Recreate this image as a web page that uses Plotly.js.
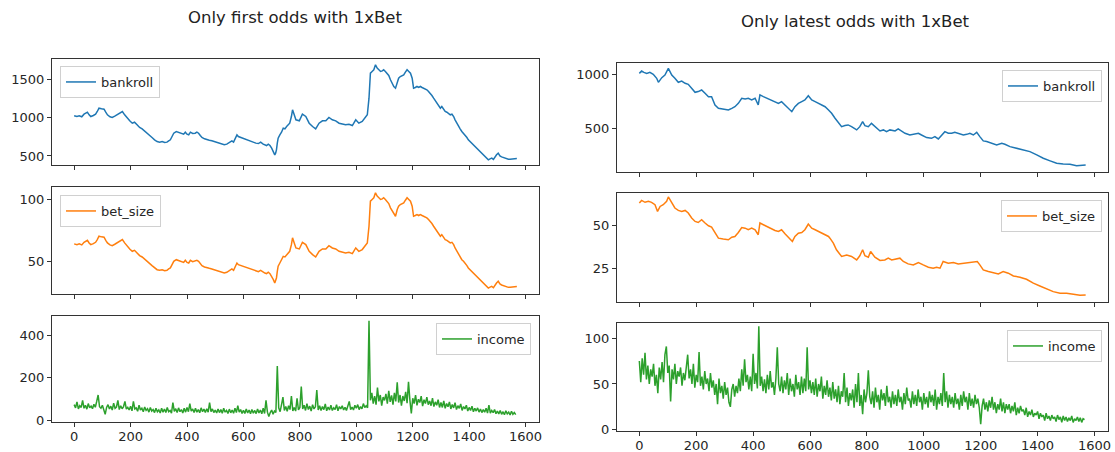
<!DOCTYPE html>
<html>
<head>
<meta charset="utf-8">
<script src="https://cdn.plot.ly/plotly-3.0.1.min.js"></script>
<style>html,body{margin:0;padding:0;background:#fff;}#chart{width:1115px;height:452px;}</style>
</head>
<body>
<div id="chart"></div>
<script>
// ---------- titles / names ----------
const titleLeft = "Only first odds with 1xBet";
const titleRight = "Only latest odds with 1xBet";
const seriesNames = ["bankroll", "bet_size", "income"];
const xTickVals = [0, 200, 400, 600, 800, 1000, 1200, 1400, 1600];

// ---------- left: only first odds ----------
const leftIdx = [0,10,18,27,35,47,53,59,68,76,82,88,97,106,112,118,127,135,144,153,162,171,179,188,197,206,214,223,232,241,250,259,268,276,285,294,303,312,321,329,335,341,347,353,362,370,379,388,394,400,406,412,420,429,435,441,447,453,462,470,479,488,497,506,514,523,532,541,550,559,565,571,577,582,591,600,609,617,626,635,644,653,661,670,676,682,688,694,700,706,711,714,717,720,723,729,735,741,747,753,759,764,770,774,780,786,798,809,821,833,845,856,868,880,892,903,915,927,939,950,962,974,986,998,1009,1021,1033,1039,1045,1050,1056,1062,1068,1074,1080,1086,1092,1097,1103,1109,1115,1121,1127,1133,1139,1145,1150,1156,1162,1168,1174,1180,1186,1192,1198,1203,1209,1215,1221,1227,1233,1239,1245,1250,1256,1262,1268,1274,1280,1286,1292,1298,1303,1309,1315,1321,1327,1333,1339,1345,1350,1356,1362,1368,1374,1380,1386,1392,1397,1403,1409,1415,1421,1427,1433,1439,1445,1450,1456,1462,1468,1474,1480,1486,1492,1497,1503,1509,1515,1521,1527,1533,1539,1545,1551,1557,1562,1569];
const leftBankroll = [1022,1013,1022,1009,1043,1069,1035,1013,1026,1043,1078,1121,1113,1108,1069,1035,1009,1000,1017,1035,1052,1078,1035,991,957,926,939,905,870,853,827,796,766,740,710,688,680,688,675,680,697,710,753,796,818,809,792,783,809,783,775,809,792,796,809,796,766,740,723,710,705,697,688,680,662,654,645,654,680,697,680,732,775,753,740,731,723,710,697,680,667,662,680,654,645,636,654,636,602,558,515,537,580,667,732,775,809,861,853,883,905,926,1013,1100,1035,970,957,1043,1013,926,883,853,926,957,957,1000,970,957,926,913,905,913,896,970,926,948,1013,1035,1251,1576,1598,1620,1684,1641,1620,1598,1606,1620,1598,1576,1546,1490,1446,1403,1381,1468,1511,1532,1546,1554,1589,1620,1598,1576,1511,1381,1390,1403,1390,1403,1390,1381,1372,1360,1338,1316,1286,1251,1216,1186,1143,1121,1143,1113,1078,1069,1056,1035,1043,1013,970,926,883,853,818,796,775,740,710,688,667,645,623,602,580,558,537,515,493,472,450,463,472,455,493,515,537,502,489,480,472,463,459,459,463,468,472,468];
const leftBetSize = [63.9,63.3,63.9,63.1,65.2,66.8,64.7,63.3,64.1,65.2,67.4,70.1,69.6,69.3,66.8,64.7,63.1,62.5,63.6,64.7,65.8,67.4,64.7,61.9,59.8,57.9,58.7,56.6,54.4,53.3,51.7,49.8,47.9,46.3,44.4,43.0,42.5,43.0,42.2,42.5,43.6,44.4,47.1,49.8,51.1,50.6,49.5,48.9,50.6,48.9,48.4,50.6,49.5,49.8,50.6,49.8,47.9,46.3,45.2,44.4,44.1,43.6,43.0,42.5,41.4,40.9,40.3,40.9,42.5,43.6,42.5,45.8,48.4,47.1,46.3,45.7,45.2,44.4,43.6,42.5,41.7,41.4,42.5,40.9,40.3,39.8,40.9,39.8,37.6,34.9,32.2,33.6,36.3,41.7,45.8,48.4,50.6,53.8,53.3,55.2,56.6,57.9,63.3,68.8,64.7,60.6,59.8,65.2,63.3,57.9,55.2,53.3,57.9,59.8,59.8,62.5,60.6,59.8,57.9,57.1,56.6,57.1,56.0,60.6,57.9,59.3,63.3,64.7,78.2,98.5,99.9,101.3,105.3,102.6,101.3,99.9,100.4,101.3,99.9,98.5,96.6,93.1,90.4,87.7,86.3,91.8,94.4,95.8,96.6,97.1,99.3,101.3,99.9,98.5,94.4,86.3,86.9,87.7,86.9,87.7,86.9,86.3,85.8,85.0,83.6,82.3,80.4,78.2,76.0,74.1,71.4,70.1,71.4,69.6,67.4,66.8,66.0,64.7,65.2,63.3,60.6,57.9,55.2,53.3,51.1,49.8,48.4,46.3,44.4,43.0,41.7,40.3,38.9,37.6,36.3,34.9,33.6,32.2,30.8,29.5,28.1,28.9,29.5,28.4,30.8,32.2,33.6,31.4,30.6,30.0,29.5,28.9,28.7,28.7,28.9,29.3,29.5,29.3];
// income sampled every 5 rows starting at row 0
const leftIncome = [
75,60,88,55,70,62,95,58,72,54,80,60,68,56,77,63,90,120,65,58,
72,48,30,62,75,55,68,50,82,58,64,95,52,70,56,66,90,54,62,50,
68,46,90,55,60,44,72,50,58,42,64,48,56,40,62,45,52,38,58,42,
50,36,58,40,55,38,62,42,48,35,85,44,56,38,60,42,52,36,58,40,
62,42,80,45,55,38,58,40,52,37,60,42,54,38,56,40,85,42,55,38,
50,36,55,38,52,35,58,40,48,34,54,37,50,35,58,38,70,40,52,34,
48,34,55,36,50,32,52,35,48,33,55,36,50,32,58,34,95,40,20,38,
50,30,45,38,255,60,42,75,110,48,66,44,70,52,115,46,62,45,105,50,
62,159,55,72,48,80,52,68,45,75,55,65,143,50,70,48,66,52,78,46,
64,50,72,48,60,52,75,46,66,55,70,50,62,48,68,90,52,64,50,72,
58,75,52,66,55,80,62,70,60,466,95,130,80,115,75,155,90,120,70,110,
95,125,80,140,88,118,75,130,90,179,85,120,70,115,92,135,82,182,95,34,
105,80,120,72,100,85,115,68,98,80,110,75,92,70,105,66,88,72,98,62,
85,62,92,58,80,65,88,55,76,60,84,52,70,58,78,48,66,55,72,45,
62,48,68,42,58,45,60,40,55,38,52,40,58,36,73,35,48,38,52,33,
45,32,48,30,42,28,46,32,40,27,44,30,38,28];

// ---------- right: only latest odds ----------
const rightIdxBank = [0,8,16,26,37,49,61,67,79,90,102,114,125,137,149,161,172,184,196,207,219,231,243,254,266,278,295,313,325,336,348,360,372,383,395,407,418,424,436,448,459,477,489,500,512,524,536,547,559,571,582,594,606,618,630,641,653,665,676,688,700,711,723,734,746,764,775,785,793,805,816,828,846,858,869,881,899,910,922,934,951,969,981,992,1010,1027,1039,1051,1063,1074,1086,1098,1109,1127,1139,1151,1162,1174,1186,1197,1209,1221,1238,1256,1274,1285,1303,1326,1350,1373,1397,1420,1444,1467,1490,1514,1537,1555,1569];
const rightBankroll = [1009,1031,1018,1009,1018,1000,963,926,969,994,1056,994,963,926,938,917,907,870,833,840,855,824,793,793,716,685,679,670,685,700,731,778,772,778,762,778,716,809,793,778,762,747,731,747,716,685,654,700,731,747,762,802,762,747,731,716,700,670,639,593,546,515,525,531,515,485,515,562,525,515,546,515,475,485,469,485,475,494,475,454,438,444,454,438,414,407,423,401,438,469,454,454,463,444,438,444,454,438,463,423,383,377,361,346,361,352,330,315,299,284,253,222,198,176,170,167,154,154,160];
const rightIdxBet = [0,8,20,32,43,55,64,73,84,96,102,114,125,137,149,161,172,184,196,207,219,231,243,254,266,278,295,313,325,336,348,360,372,383,395,407,418,424,436,448,459,477,489,500,512,524,538,547,559,571,582,594,606,618,629,641,653,665,670,682,693,711,729,746,764,775,785,793,805,813,828,846,863,875,887,904,916,928,945,963,981,998,1016,1033,1045,1057,1068,1086,1104,1121,1139,1156,1174,1188,1197,1209,1227,1244,1262,1279,1297,1315,1338,1361,1385,1408,1432,1455,1479,1502,1526,1549,1569];
const rightBetSize = [63.0,64.5,63.4,64.0,63.4,62.0,58.1,61.0,62.0,64.0,66.5,63.0,60.1,58.7,58.1,58.7,57.2,54.3,52.3,51.7,53.3,51.4,49.8,49.0,45.5,42.6,42.1,41.7,43.2,43.6,45.9,48.8,48.4,47.5,48.4,47.5,44.6,51.4,50.4,49.4,48.4,47.1,46.5,47.5,45.2,43.2,40.7,43.6,45.5,45.9,47.5,50.8,48.4,47.5,46.5,45.5,44.6,43.6,42.6,39.7,35.9,32.0,32.9,32.0,30.0,32.4,35.9,32.4,31.6,34.9,31.6,29.7,30.0,31.0,30.0,30.4,31.0,29.1,27.7,27.1,28.5,27.1,25.8,25.2,25.8,25.2,29.1,28.1,28.5,27.7,28.1,28.1,28.5,29.1,27.1,24.2,23.3,22.7,21.9,23.3,22.3,20.7,20.0,18.8,16.5,14.9,13.0,11.6,10.7,10.7,10.1,9.5,9.7];
// income sampled every 5 rows starting at row 0
const rightIncome = [
75,52,78,60,84,55,70,50,66,58,72,48,60,40,68,55,74,52,82,91,
62,70,31,66,55,72,50,64,58,68,48,62,54,70,82,56,66,50,72,46,
60,52,85,48,58,44,64,50,56,42,62,46,54,38,50,28,56,40,48,34,
52,38,46,30,25,44,50,36,48,40,56,42,66,48,77,52,60,44,58,42,
83,50,62,45,113,48,58,42,55,40,60,44,64,46,52,38,56,90,50,42,
58,40,54,44,62,38,56,42,50,36,60,44,52,38,58,40,56,42,90,44,
54,40,52,38,56,36,50,42,58,34,48,38,54,36,46,32,52,34,44,30,
48,28,42,36,62,30,46,26,40,32,44,24,50,30,62,26,38,17,44,30,
40,65,36,28,42,24,46,30,38,22,44,32,40,26,48,30,36,24,42,28,
38,26,44,30,36,22,40,28,46,32,34,24,42,28,38,26,44,30,36,22,
40,28,36,24,42,30,38,26,44,22,36,28,40,26,62,30,42,24,38,28,
36,24,40,28,34,22,38,26,42,30,36,22,40,26,34,24,38,28,34,24,
6,26,34,22,30,20,32,24,36,22,30,18,28,22,34,20,30,18,28,22,
28,18,26,20,30,16,24,18,26,20,22,16,24,14,20,16,22,14,18,16,
20,12,18,14,16,10,18,12,15,10,16,12,14,9,16,11,14,8,15,10,
14,9,13,10,15,8,12,10,14,9,13,8,12,11];

// ---------- styling ----------
const colors = ["#1f77b4", "#ff7f0e", "#2ca02c"];
const FONT = "DejaVu Sans, Liberation Sans, sans-serif";
const W = 1115, H = 452;
const px = v => v / W;
const py = v => 1 - v / H;

function mk(x, y, name, color, xa, ya, leg, step) {
  const t = {type: "scatter", mode: "lines", y: y, name: name,
    line: {color: color, width: 1.5}, xaxis: xa, yaxis: ya, legend: leg, hoverinfo: "skip"};
  if (x) t.x = x; else { t.x0 = 0; t.dx = step; }
  return t;
}

const data = [
  mk(leftIdx, leftBankroll, seriesNames[0], colors[0], "x", "y", "legend", 0),
  mk(leftIdx, leftBetSize, seriesNames[1], colors[1], "x2", "y2", "legend2", 0),
  mk(null, leftIncome, seriesNames[2], colors[2], "x3", "y3", "legend3", 5),
  mk(rightIdxBank, rightBankroll, seriesNames[0], colors[0], "x4", "y4", "legend4", 0),
  mk(rightIdxBet, rightBetSize, seriesNames[1], colors[1], "x5", "y5", "legend5", 0),
  mk(null, rightIncome, seriesNames[2], colors[2], "x6", "y6", "legend6", 5)
];

const axBase = {
  ticks: "outside", ticklen: 4, tickwidth: 1, tickcolor: "#333",
  showline: true, mirror: true, linecolor: "#333", linewidth: 1,
  showgrid: false, zeroline: false, fixedrange: true,
  tickfont: {family: FONT, size: 13, color: "#262626"}
};
function xa(dom, anchor, labels) {
  return Object.assign({}, axBase, {domain: dom, anchor: anchor, range: [-78.5, 1647.5],
    tickmode: "array", tickvals: xTickVals, showticklabels: labels, ticklabelstandoff: -2});
}
function ya(dom, anchor, range, tv) {
  return Object.assign({}, axBase, {domain: dom, anchor: anchor, range: range,
    tickmode: "array", tickvals: tv});
}
const LX = [px(52), px(539)], RX = [px(617), px(1108)];
const L1 = [py(165), py(59)], L2 = [py(294), py(187)], L3 = [py(422), py(316)];
const R1 = [py(172), py(63)], R2 = [py(302), py(193)], R3 = [py(431), py(323)];

function leg(x, y, xanchor) {
  return {x: x, y: y, xanchor: xanchor, yanchor: "top", bgcolor: "rgba(255,255,255,0.8)",
    bordercolor: "#d0d0d0", borderwidth: 1, itemwidth: 30,
    font: {family: FONT, size: 13, color: "#262626"}};
}

const layout = {
  width: W, height: H, margin: {l: 0, r: 0, t: 0, b: 0},
  paper_bgcolor: "#fff", plot_bgcolor: "#fff",
  font: {family: FONT, color: "#262626"},
  xaxis: xa(LX, "y", false), yaxis: ya(L1, "x", [383, 1760], [500, 1000, 1500]),
  xaxis2: xa(LX, "y2", false), yaxis2: ya(L2, "x2", [23.3, 110], [50, 100]),
  xaxis3: xa(LX, "y3", true), yaxis3: ya(L3, "x3", [-6, 488.7], [0, 200, 400]),
  xaxis4: xa(RX, "y4", false), yaxis4: ya(R1, "x4", [95, 1105], [500, 1000]),
  xaxis5: xa(RX, "y5", false), yaxis5: ya(R2, "x5", [5.6, 68.8], [25, 50]),
  xaxis6: xa(RX, "y6", true), yaxis6: ya(R3, "x6", [-1.4, 116.6], [0, 50, 100]),
  legend: leg(px(60), py(66), "left"),
  legend2: leg(px(60), py(195), "left"),
  legend3: leg(px(531), py(323), "right"),
  legend4: leg(px(1102), py(70), "right"),
  legend5: leg(px(1102), py(200), "right"),
  legend6: leg(px(1102), py(330), "right"),
  annotations: [
    {text: titleLeft, xref: "paper", yref: "paper", x: px(295), y: py(18), xanchor: "center", yanchor: "middle",
     showarrow: false, font: {family: FONT, size: 16.5, color: "#222"}},
    {text: titleRight, xref: "paper", yref: "paper", x: px(855), y: py(22), xanchor: "center", yanchor: "middle",
     showarrow: false, font: {family: FONT, size: 16.5, color: "#222"}}
  ],
  showlegend: true
};

Plotly.newPlot("chart", data, layout, {staticPlot: true, displayModeBar: false});
</script>
</body>
</html>
